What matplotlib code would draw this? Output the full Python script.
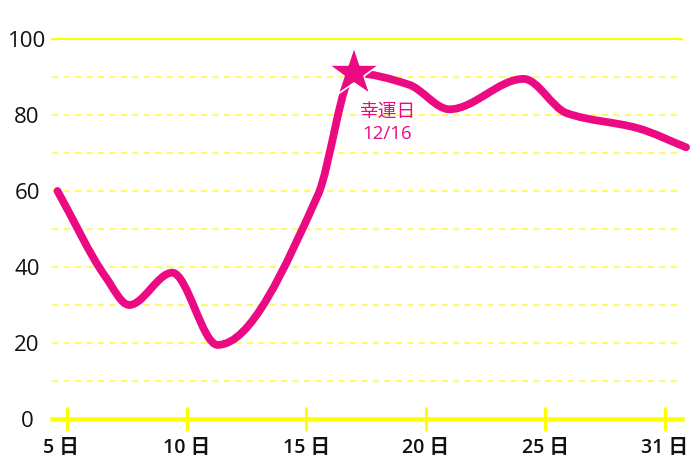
import matplotlib
matplotlib.use('Agg')
import matplotlib.pyplot as plt
from matplotlib.path import Path
from matplotlib.patches import PathPatch
from matplotlib.transforms import ScaledTranslation
import numpy as np

plt.rcParams['font.family'] = ['Open Sans', 'Noto Sans CJK JP', 'DejaVu Sans']

# データ
days = [4.6, 6.6, 7.6, 9.4, 11.3, 15.5, 17.0, 19.3, 21.0, 24.1, 25.9, 28.9, 30.9]
values = [60, 37.5, 30, 38.5, 19.5, 59, 91, 88, 81.5, 89.5, 80.5, 76.5, 71.5]
tick_pos = [5, 10, 15, 20, 25, 30]
tick_labels = ['5 日', '10 日', '15 日', '20 日', '25 日', '31 日']
y_ticks = [0, 20, 40, 60, 80, 100]
lucky_day = 17.0
lucky_value = 91
lucky_text = '幸運日\n12/16'

PINK = '#ec0a82'
YELLOW = '#ffff00'
LIGHT_YELLOW = '#fffa66'


def smooth_path(x, y):
    # 単調3次曲線（Fritsch-Carlson）をベジェ曲線のパスにする
    x = np.asarray(x, float)
    y = np.asarray(y, float)
    h = np.diff(x)
    d = np.diff(y) / h
    m = np.zeros_like(y)
    m[0], m[-1] = d[0], d[-1]
    for k in range(1, len(x) - 1):
        if d[k - 1] * d[k] > 0:
            w1 = 2 * h[k] + h[k - 1]
            w2 = h[k] + 2 * h[k - 1]
            m[k] = (w1 + w2) / (w1 / d[k - 1] + w2 / d[k])
    verts = [(x[0], y[0])]
    codes = [Path.MOVETO]
    for k in range(len(x) - 1):
        verts += [(x[k] + h[k] / 3, y[k] + m[k] * h[k] / 3),
                  (x[k + 1] - h[k] / 3, y[k + 1] - m[k + 1] * h[k] / 3),
                  (x[k + 1], y[k + 1])]
        codes += [Path.CURVE4] * 3
    return Path(verts, codes)


fig = plt.figure(figsize=(7, 4.67), dpi=100)
ax = fig.add_axes([52 / 700, 48 / 467, 630 / 700, 380 / 467])

ax.set_xlim(4.37, 30.73)
ax.set_ylim(0, 100)

# 横の補助線
for v in range(10, 100, 10):
    ax.axhline(v, color=LIGHT_YELLOW, lw=1.5, dashes=(3, 2.5), zorder=1)
ax.axhline(100, color=YELLOW, lw=1.5, zorder=1, clip_on=False)

for s in ['top', 'right', 'left']:
    ax.spines[s].set_visible(False)
ax.spines['bottom'].set_color(YELLOW)
ax.spines['bottom'].set_linewidth(3.3)

ax.set_xticks(tick_pos)
ax.set_xticklabels(tick_labels)
ax.tick_params(axis='x', direction='inout', length=17, width=2.2, color=YELLOW,
               pad=5, labelsize=14, labelcolor='#111111')
ax.set_yticks(y_ticks)
ax.set_yticklabels([str(v) for v in y_ticks])
ax.tick_params(axis='y', length=0, pad=18, labelsize=16, labelcolor='#111111')
for lab in ax.get_yticklabels():
    lab.set_horizontalalignment('center')
for lab in ax.get_xticklabels():
    lab.set_fontweight('semibold')
first = ax.get_xticklabels()[0]
first.set_transform(first.get_transform() + ScaledTranslation(-0.06, 0, fig.dpi_scale_trans))

# 折れ線
patch = PathPatch(smooth_path(days, values), facecolor='none', edgecolor=PINK,
                  lw=5.6, capstyle='round', joinstyle='round', zorder=3, clip_on=False)
ax.add_patch(patch)

# 幸運日の星
ax.plot([lucky_day], [lucky_value], marker='*', markersize=38, color=PINK,
        markeredgecolor='white', markeredgewidth=1.2, zorder=4, clip_on=False)
ax.text(lucky_day + 1.4, lucky_value - 13.2, lucky_text, color=PINK, fontsize=13.5,
        ha='center', va='center', linespacing=1.3, zorder=5)

fig.savefig('out.png', dpi=100)
plt.close(fig)
